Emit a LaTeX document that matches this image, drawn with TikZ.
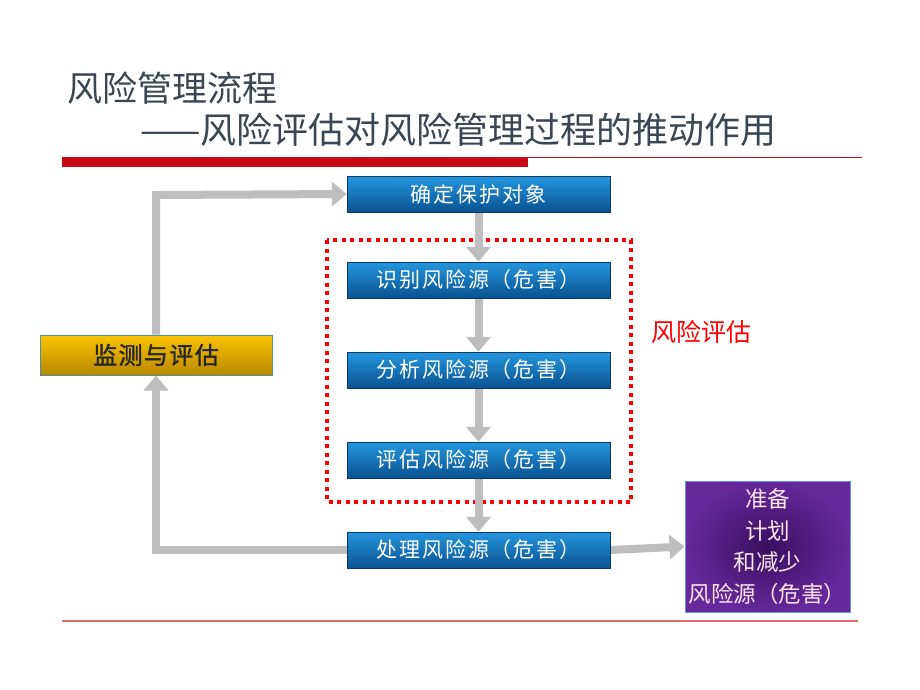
\documentclass[tikz,border=0pt]{standalone}
\usepackage{fontspec}
\setmainfont{Noto Sans CJK SC}
\newfontfamily\cjk{Noto Sans CJK SC}
\newfontfamily\cjksp[LetterSpace=9]{Noto Sans CJK SC}
\newfontfamily\cjkbold[FakeBold=1.5,LetterSpace=6]{Noto Sans CJK SC}
\usetikzlibrary{arrows.meta,shadings}
\definecolor{titlec}{RGB}{58,70,84}
\definecolor{blueT}{RGB}{36,150,222}
\definecolor{blueB}{RGB}{10,82,145}
\definecolor{goldT}{RGB}{250,196,0}
\definecolor{goldB}{RGB}{185,135,0}
\definecolor{goldE}{RGB}{70,150,160}
\definecolor{purpI}{RGB}{55,15,95}
\definecolor{purpO}{RGB}{102,40,155}
\definecolor{purpE}{RGB}{100,150,215}
\definecolor{arrowc}{RGB}{190,190,190}
\definecolor{barred}{RGB}{200,10,20}
\definecolor{linered}{RGB}{220,110,110}
\begin{document}
\begin{tikzpicture}[x=1pt,y=-1pt,
  bluebox/.style={rectangle, minimum width=263pt, minimum height=36pt, inner sep=0pt,
    top color=blueT, bottom color=blueB, draw=blueB!70!black, line width=0.4pt,
    text=white, font=\cjksp\fontsize{21}{24}\selectfont},
  goldbox/.style={rectangle, minimum width=232pt, minimum height=40pt, inner sep=0pt,
    top color=goldT, bottom color=goldB, draw=goldE, line width=1pt,
    text=black!85, font=\cjkbold\fontsize{24}{28}\selectfont},
  purpbox/.style={rectangle, minimum width=165pt, minimum height=131pt, inner sep=0pt,
    inner color=purpI, outer color=purpO, draw=purpE, line width=1pt,
    text=white!90!purple, align=center, font=\cjk\fontsize{22.5}{31.5}\selectfont},
  garrow/.style={draw=arrowc, line width=8pt, -{Triangle[length=15pt,width=24pt]}},
  titletext/.style={anchor=west, text=titlec, inner sep=0pt}
]
\useasboundingbox (0,0) rectangle (920,690);
\fill[white] (0,0) rectangle (920,690);

% titles
\node[titletext, font=\cjk\fontsize{35}{38}\selectfont] (t1) at (67,88) {风险管理流程};
\node[titletext, font=\cjk\fontsize{36}{38}\selectfont] (t2) at (140,130) {——风险评估对风险管理过程的推动作用};

% red lines
\fill[barred] (62,157) rectangle (528,167);
\draw[barred, line width=1pt] (528,157.5) -- (862,157.5);
\draw[linered, line width=1.5pt] (62,621) -- (858,621);

% boxes
\node[bluebox] (b1) at (478.5,194) {确定保护对象};
\node[bluebox] (b2) at (478.5,280) {识别风险源（危害）};
\node[bluebox] (b3) at (478.5,370) {分析风险源（危害）};
\node[bluebox] (b4) at (478.5,460) {评估风险源（危害）};
\node[bluebox] (b5) at (478.5,550) {处理风险源（危害）};
\node[goldbox] (m) at (156,355) {监测与评估};
\node[purpbox] (p) at (767.5,546.5) {准备\\计划\\和减少\\风险源（危害）};

% dotted assessment frame
\draw[red, line width=4pt, dash pattern=on 4pt off 4.5pt] (327,240) rectangle (631,502);
\node[text=red, font=\cjk\fontsize{25}{28}\selectfont, inner sep=0pt] (ra) at (701,332) {风险评估};

% connectors
\coordinate (cl) at (156,550);
\coordinate (ct) at (156,195);
\draw[garrow] (b1.south) -- (b2.north);
\draw[garrow] (b2.south) -- (b3.north);
\draw[garrow] (b3.south) -- (b4.north);
\draw[garrow] (b4.south) -- (b5.north);
\draw[garrow] (b5.west) -- (cl) -- (m.south);
\draw[garrow] (m.north) -- (ct) -- (b1.west);
\draw[garrow] (b5.east) -- (p.west);

% redraw boxes above connectors
\node[bluebox] at (b1) {确定保护对象};
\node[bluebox] at (b2) {识别风险源（危害）};
\node[bluebox] at (b3) {分析风险源（危害）};
\node[bluebox] at (b4) {评估风险源（危害）};
\node[bluebox] at (b5) {处理风险源（危害）};
\end{tikzpicture}
\end{document}
